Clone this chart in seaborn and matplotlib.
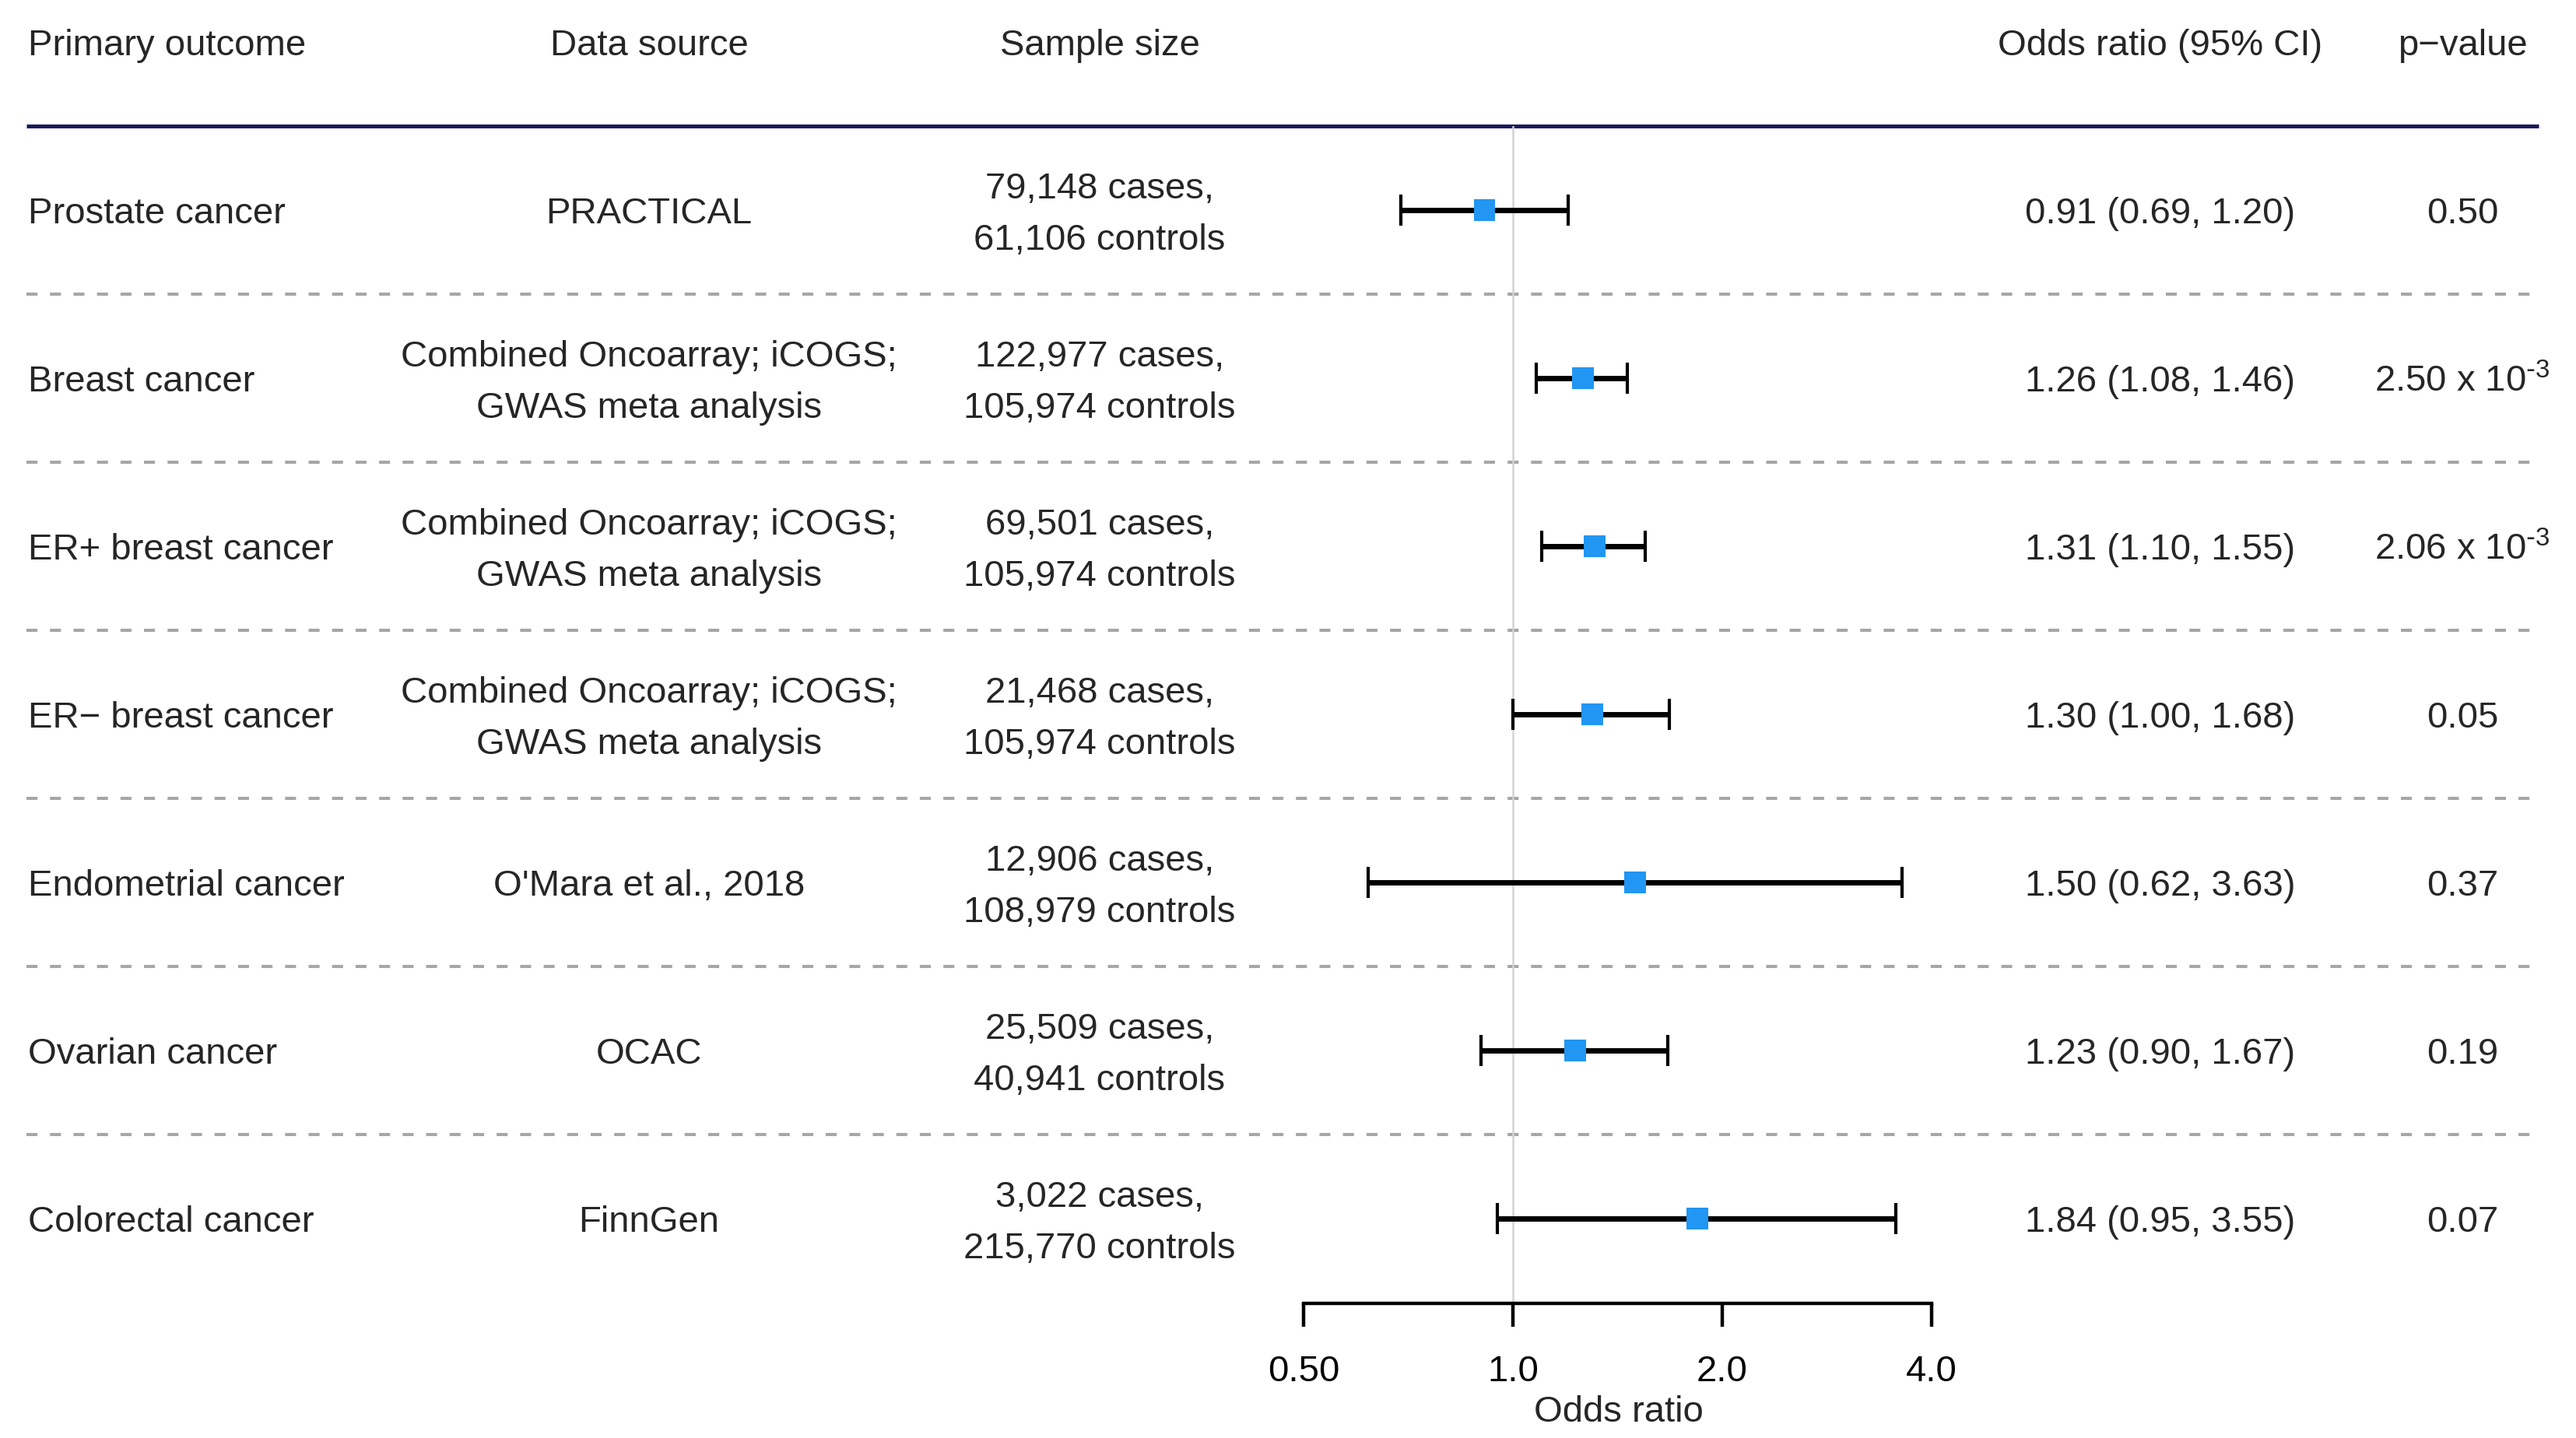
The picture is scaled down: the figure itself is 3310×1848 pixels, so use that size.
import numpy as np
import pandas as pd
import matplotlib
matplotlib.use("Agg")
import matplotlib.pyplot as plt
from matplotlib.ticker import NullLocator
import seaborn as sns

# table columns
outcomes = ["Prostate cancer", "Breast cancer", "ER+ breast cancer", "ER\u2212 breast cancer",
            "Endometrial cancer", "Ovarian cancer", "Colorectal cancer"]
sources = ["PRACTICAL",
           "Combined Oncoarray; iCOGS;\nGWAS meta analysis",
           "Combined Oncoarray; iCOGS;\nGWAS meta analysis",
           "Combined Oncoarray; iCOGS;\nGWAS meta analysis",
           "O'Mara et al., 2018", "OCAC", "FinnGen"]
cases = [79148, 122977, 69501, 21468, 12906, 25509, 3022]
controls = [61106, 105974, 105974, 105974, 108979, 40941, 215770]
odds = [0.91, 1.26, 1.31, 1.30, 1.50, 1.23, 1.84]
ci_low = [0.69, 1.08, 1.10, 1.00, 0.62, 0.90, 0.95]
ci_high = [1.20, 1.46, 1.55, 1.68, 3.63, 1.67, 3.55]
p_labels = ["0.50", r"2.50 x 10$^{\text{-}3}$", r"2.06 x 10$^{\text{-}3}$",
            "0.05", "0.37", "0.19", "0.07"]
headers = ["Primary outcome", "Data source", "Sample size", "Odds ratio (95% CI)", "p\u2212value"]
x_ticks = [0.5, 1.0, 2.0, 4.0]
x_tick_labels = ["0.50", "1.0", "2.0", "4.0"]

sns.set_theme(style="white")
plt.rcParams['font.family'] = ['Liberation Sans', 'DejaVu Sans']
plt.rcParams['mathtext.default'] = 'regular'

# layout (pixels)
W, H, DPI = 3310, 1848, 100
ROW0, ROW_H = 270, 216
ONE_X, DOUBLING = 1944, 269
FS = 34
BLUE = '#2196F3'

def to_row(px):
    return (px - ROW0) / ROW_H

df = pd.DataFrame({'outcome': outcomes, 'source': sources, 'cases': cases,
                   'controls': controls, 'odds': odds, 'lo': ci_low, 'hi': ci_high,
                   'p': p_labels})
df['row'] = np.arange(len(df))
df['sample'] = df.apply(lambda r: f"{r['cases']:,} cases,\n{r['controls']:,} controls", axis=1)
df['or_txt'] = df.apply(lambda r: f"{r['odds']:.2f} ({r['lo']:.2f}, {r['hi']:.2f})", axis=1)

fig = plt.figure(figsize=(W / DPI, H / DPI), dpi=DPI)

# text table
tab = fig.add_axes([0, 0, 1, 1])
tab.set_xlim(0, W)
tab.set_ylim(to_row(H), to_row(0))
tab.axis('off')

col_x = [36, 834, 1413, 2776, 3164]
col_ha = ['left', 'center', 'center', 'center', 'center']
col_keys = ['outcome', 'source', 'sample', 'or_txt', 'p']

for x, ha, h in zip(col_x, col_ha, headers):
    tab.text(x, -1, h, ha=ha, va='center_baseline', fontsize=FS)
for _, r in df.iterrows():
    for x, ha, k in zip(col_x, col_ha, col_keys):
        txt = r[k]
        if '\n' in txt:
            tab.text(x, r['row'] + 0.027, txt, ha=ha, va='center', fontsize=FS,
                     linespacing=1.65, multialignment='center')
        else:
            tab.text(x, r['row'], txt, ha=ha, va='center_baseline', fontsize=FS)

tab.hlines(-0.5, 34, 3262, color='#1A1A5E', lw=3.6)
tab.hlines(df['row'][:-1] + 0.5, 34, 3262, colors='#A6A6A6', lw=2.9,
           linestyles=(0, (3.5, 4)))

# forest panel
FL, FR, FT, FB = 1600, 2560, 162, 1675
ax = fig.add_axes([FL / W, 1 - FB / H, (FR - FL) / W, (FB - FT) / H])
ax.patch.set_alpha(0)
ax.set_xscale('log', base=2)

ax.axvline(1, color='#D3D3D3', lw=1.8, zorder=0)
ax.errorbar(df['odds'], df['row'], xerr=[df['odds'] - df['lo'], df['hi'] - df['odds']],
            fmt='none', ecolor='black', elinewidth=5, capsize=14.5, capthick=3.0, zorder=2)
sns.scatterplot(data=df, x='odds', y='row', marker='s', s=400, color=BLUE,
                edgecolor='none', ax=ax, zorder=3, legend=False)

ax.set_xlim(2 ** ((FL - ONE_X) / DOUBLING), 2 ** ((FR - ONE_X) / DOUBLING))
ax.set_ylim(to_row(FB), -0.5)
for s in ['top', 'left', 'right']:
    ax.spines[s].set_visible(False)
ax.spines['bottom'].set_bounds(0.5, 4)
ax.spines['bottom'].set_linewidth(3.2)
ax.spines['bottom'].set_color('black')
ax.set_xticks(x_ticks)
ax.set_xticklabels(x_tick_labels)
ax.xaxis.set_minor_locator(NullLocator())
ax.tick_params(axis='x', direction='out', length=21.6, width=3.2, pad=26,
               labelsize=FS, colors='black', bottom=True)
ax.set_yticks([])
ax.set_ylabel('')
ax.set_xlabel('Odds ratio', fontsize=FS, labelpad=6)

fig.savefig('out.png', dpi=DPI)
